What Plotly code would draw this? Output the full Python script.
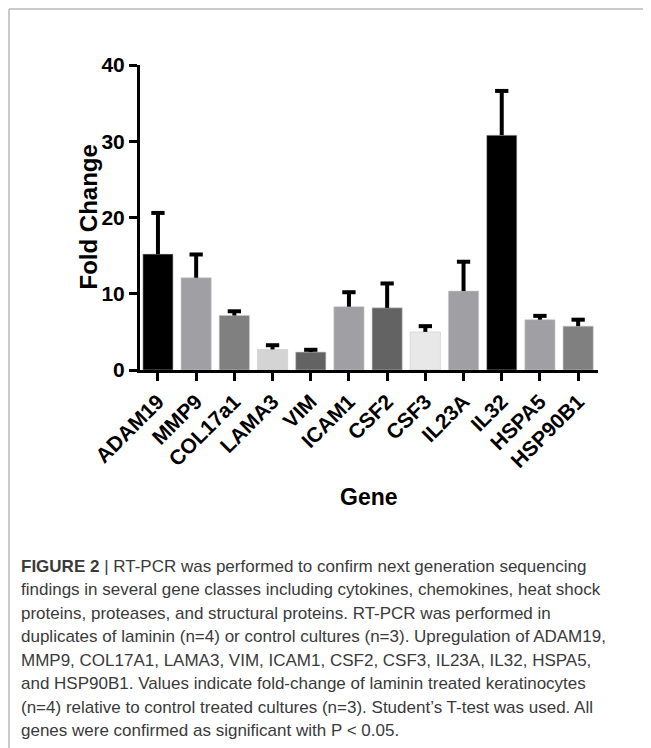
import plotly.graph_objects as go

genes = ["ADAM19", "MMP9", "COL17a1", "LAMA3", "VIM", "ICAM1", "CSF2", "CSF3",
         "IL23A", "IL32", "HSPA5", "HSP90B1"]
fold_change = [15.2, 12.1, 7.15, 2.7, 2.35, 8.3, 8.15, 5.0, 10.35, 30.8, 6.6, 5.75]
error_up = [5.4, 3.05, 0.55, 0.55, 0.3, 1.9, 3.2, 0.75, 3.85, 5.8, 0.5, 0.85]
bar_colors = ["#000000", "#a0a0a4", "#808080", "#d4d4d4", "#636363", "#a0a0a4",
              "#636363", "#e8e8e8", "#a0a0a4", "#000000", "#a0a0a4", "#808080"]
y_ticks = [0, 10, 20, 30, 40]

caption_lines = [
    "<b>FIGURE 2</b> | RT-PCR was performed to confirm next generation sequencing",
    "findings in several gene classes including cytokines, chemokines, heat shock",
    "proteins, proteases, and structural proteins. RT-PCR was performed in",
    "duplicates of laminin (n=4) or control cultures (n=3). Upregulation of ADAM19,",
    "MMP9, COL17A1, LAMA3, VIM, ICAM1, CSF2, CSF3, IL23A, IL32, HSPA5,",
    "and HSP90B1. Values indicate fold-change of laminin treated keratinocytes",
    "(n=4) relative to control treated cultures (n=3). Student\u2019s T-test was used. All",
    "genes were confirmed as significant with P < 0.05.",
]

# page body has an 8px margin; figure is sized to fill the rest of the window
OFF = 8
W, H = 651 - OFF, 748 - OFF
ML, MR, MT, MB = 140 - OFF, 53, 65 - OFF, 378
PW, PH = W - ML - MR, H - MT - MB

def px_x(p):  # absolute window px -> paper
    return (p - OFF - ML) / PW

def px_y(p):
    return (H - MB - (p - OFF)) / PH

fig = go.Figure()
fig.add_trace(go.Bar(
    x=genes, y=fold_change, width=0.79,
    marker=dict(color=bar_colors, line=dict(color="rgba(200,200,200,0.7)", width=0.8)),
    showlegend=False,
))

# error bar stems (upper only)
sx, sy = [], []
for g, v, e in zip(genes, fold_change, error_up):
    sx += [g, g, None]
    sy += [v, v + e, None]
fig.add_trace(go.Scatter(x=sx, y=sy, mode="lines", line=dict(color="black", width=4),
                         showlegend=False, hoverinfo="skip"))
# caps
fig.add_trace(go.Scatter(
    x=genes, y=[v + e for v, e in zip(fold_change, error_up)], mode="markers",
    marker=dict(symbol="line-ew", size=9.5, line=dict(color="black", width=4)),
    showlegend=False, hoverinfo="skip"))

FONT = "Liberation Sans, Arial, sans-serif"

fig.update_xaxes(
    range=[-0.47, 11.52], showline=True, linecolor="black", linewidth=3,
    ticks="outside", ticklen=8, tickwidth=3, tickcolor="black",
    tickangle=-45, tickfont=dict(family=FONT, size=21, color="black", weight="bold"),
    showgrid=False, zeroline=False,
)
fig.update_yaxes(
    range=[0, 40], tickvals=y_ticks, showline=True, linecolor="black", linewidth=3,
    ticks="outside", ticklen=8, tickwidth=3, tickcolor="black",
    tickfont=dict(family=FONT, size=21, color="black", weight="bold"),
    showgrid=False, zeroline=False,
)

annotations = [
    dict(text="<b>Fold Change</b>", x=px_x(88), y=0.5, xref="paper", yref="paper",
         textangle=-90, showarrow=False, xanchor="center", yanchor="middle",
         font=dict(family=FONT, size=24, color="black")),
    dict(text="<b>Gene</b>", x=0.5, y=px_y(497), xref="paper", yref="paper",
         showarrow=False, xanchor="center", yanchor="middle",
         font=dict(family=FONT, size=23, color="black")),
]
base = 566
for i, line in enumerate(caption_lines):
    annotations.append(dict(
        text=line, x=px_x(19), y=px_y(base + i * 23.5), xref="paper", yref="paper",
        showarrow=False, xanchor="left", yanchor="middle", align="left",
        font=dict(family=FONT, size=17, color="#3a3a3a")))

shapes = [
    dict(type="line", xref="paper", yref="paper", x0=px_x(9), x1=px_x(660),
         y0=px_y(9), y1=px_y(9), line=dict(color="#b8b8b8", width=1.5)),
    dict(type="line", xref="paper", yref="paper", x0=px_x(9), x1=px_x(9),
         y0=px_y(9), y1=px_y(760), line=dict(color="#b8b8b8", width=1.5)),
]

fig.update_layout(
    width=W, height=H, margin=dict(l=ML, r=MR, t=MT, b=MB),
    plot_bgcolor="white", paper_bgcolor="white",
    annotations=annotations, shapes=shapes, bargap=0.2,
)

fig.write_html("out.html")
